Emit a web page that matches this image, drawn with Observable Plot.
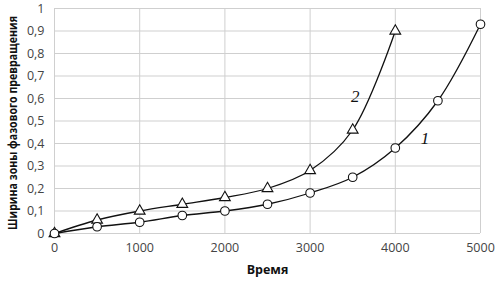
<!DOCTYPE html>
<html><head><meta charset="utf-8">
<script src="https://cdn.jsdelivr.net/npm/d3@7"></script>
<script src="https://cdn.jsdelivr.net/npm/@observablehq/plot@0.6"></script>
<style>body{margin:0;background:#fff;} svg{font-family:"Open Sans",sans-serif;}</style>
</head><body><div id="chart"></div>
<script>
const time1 = [0, 500, 1000, 1500, 2000, 2500, 3000, 3500, 4000, 4500, 5000];
const width1 = [0, 0.03, 0.05, 0.08, 0.10, 0.13, 0.18, 0.25, 0.38, 0.59, 0.93];
const time2 = [0, 500, 1000, 1500, 2000, 2500, 3000, 3500, 4000];
const width2 = [0, 0.06, 0.10, 0.13, 0.16, 0.20, 0.28, 0.46, 0.90];
const xTicks = [0, 1000, 2000, 3000, 4000, 5000];
const yTicks = [0, 0.1, 0.2, 0.3, 0.4, 0.5, 0.6, 0.7, 0.8, 0.9, 1];
const curveNames = ["2", "1"];
const curveLabelX = [3530, 4350];
const curveLabelY = [0.61, 0.42];

const s1 = time1.map((t, i) => ({t, w: width1[i]}));
const s2 = time2.map((t, i) => ({t, w: width2[i]}));
const labels = curveNames.map((n, i) => ({n, t: curveLabelX[i], w: curveLabelY[i]}));
const fmt = v => String(+v.toFixed(1)).replace(".", ",");

const chart = Plot.plot({
  width: 497, height: 282,
  marginLeft: 54, marginRight: 17, marginTop: 8, marginBottom: 49,
  style: {fontSize: "12.5px", color: "#444"},
  x: {domain: [0, 5000], ticks: xTicks, tickFormat: d => String(d), tickSize: 0, tickPadding: 10, label: "Время", labelAnchor: "center", labelArrow: "none", labelOffset: 40},
  y: {domain: [0, 1], ticks: yTicks, tickSize: 0, tickPadding: 10, tickFormat: fmt, label: null},
  marks: [
    Plot.gridX(xTicks, {stroke: "#cfcfcf", strokeOpacity: 1}),
    Plot.gridY(yTicks, {stroke: "#cfcfcf", strokeOpacity: 1}),
    Plot.line(s2, {x: "t", y: "w", curve: "catmull-rom", stroke: "#111", strokeWidth: 1.3}),
    Plot.line(s1, {x: "t", y: "w", curve: "catmull-rom", stroke: "#111", strokeWidth: 1.3}),
    Plot.dot(s2, {x: "t", y: "w", symbol: "triangle", r: 4, fill: "white", stroke: "#111", strokeWidth: 1.1}),
    Plot.dot(s1, {x: "t", y: "w", symbol: "circle", r: 4.3, fill: "white", stroke: "#111", strokeWidth: 1.1}),
    Plot.text(labels, {x: "t", y: "w", text: "n", fontFamily: "Liberation Serif", fontStyle: "italic", fontSize: 17, fill: "#111"})
  ]
});
chart.querySelectorAll("g[aria-label='x-axis label'] text").forEach(t => {t.setAttribute("font-weight", "bold"); t.setAttribute("fill", "#111");});
document.getElementById("chart").appendChild(chart);
const svg = d3.select(chart);
svg.append("text")
  .attr("transform", "translate(14,123) rotate(-90)")
  .attr("text-anchor", "middle")
  .attr("dominant-baseline", "middle")
  .attr("font-weight", "bold")
  .attr("font-size", 11.5)
  .attr("textLength", 214)
  .attr("lengthAdjust", "spacingAndGlyphs")
  .attr("fill", "#111")
  .text("Ширина зоны фазового превращения");
</script></body></html>
